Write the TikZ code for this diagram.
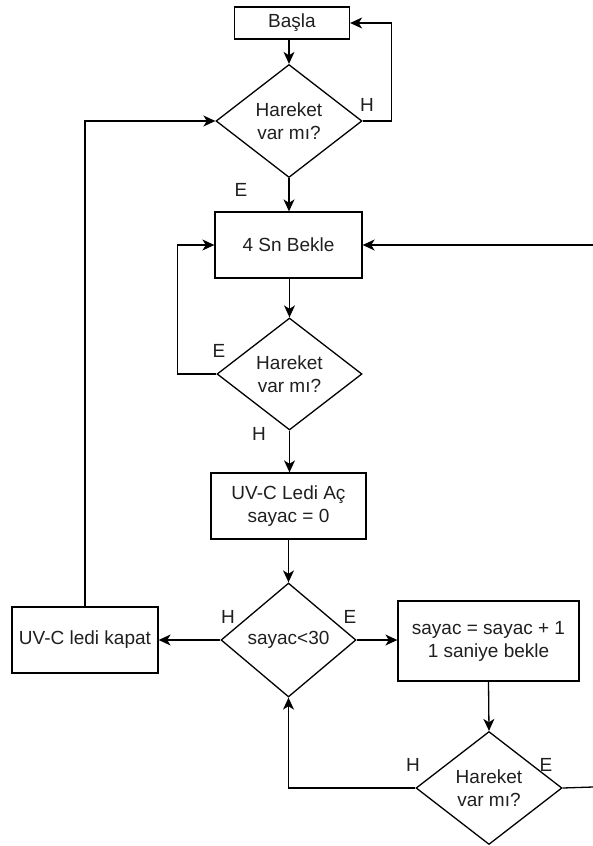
\documentclass[tikz,border=0pt]{standalone}
\usepackage{fontspec}
\setmainfont{Liberation Sans}
\usetikzlibrary{shapes.geometric,arrows.meta}
\begin{document}
\begin{tikzpicture}[x=1pt,y=-1pt,
  every node/.style={font=\fontsize{19}{23}\selectfont, text=black!88},
  flowbox/.style={draw, line width=1.3pt, rectangle, inner sep=0pt, align=center},
  decide/.style={draw, line width=1.3pt, diamond, inner sep=0pt, align=center},
  lbl/.style={inner sep=0pt},
  conn/.style={line width=1.3pt},
  arr/.style={conn, -{Stealth[length=12pt,width=11pt,inset=3.5pt]}}
]
\useasboundingbox (0,0) rectangle (593,846);

\node[flowbox, minimum width=115pt, minimum height=32pt] (basla) at (292,23) {Başla};
\node[decide, minimum width=146pt, minimum height=113pt] (d1) at (289,121) {Hareket\\var mı?};
\node[flowbox, minimum width=147pt, minimum height=66pt] (bek) at (288.5,245) {4 Sn Bekle};
\node[decide, minimum width=145pt, minimum height=112pt] (d2) at (289.5,374) {Hareket\\var mı?};
\node[flowbox, minimum width=155pt, minimum height=66pt] (uvac) at (288.5,506) {UV-C Ledi Aç\\sayac = 0};
\node[decide, minimum width=135pt, minimum height=114pt] (d3) at (288.5,640) {sayac<30};
\node[flowbox, minimum width=146pt, minimum height=66pt] (kapat) at (85,640) {UV-C ledi kapat};
\node[flowbox, minimum width=181pt, minimum height=80pt] (say) at (488.5,641) {sayac = sayac + 1\\1 saniye bekle};
\node[decide, minimum width=146pt, minimum height=113pt] (d4) at (489,788) {Hareket\\var mı?};

\coordinate (rin) at (593,245);
\coordinate (rout) at (593,787);

% labels
\node[lbl] (l1) at (367,105) {H};
\node[lbl] (l2) at (241,190) {E};
\node[lbl] (l3) at (219,351) {E};
\node[lbl] (l4) at (259,434) {H};
\node[lbl] (l5) at (228,617) {H};
\node[lbl] (l6) at (350,617) {E};
\node[lbl] (l7) at (413,765) {H};
\node[lbl] (l8) at (546,765) {E};

% connectors
\draw[arr] (basla.south -| d1.north) -- (d1.north);
\draw[arr] (d1.east) -- ++(29,0) |- (basla.east);
\draw[arr] (d1.south) -- (d1.south |- bek.north);
\draw[arr] (rin) -- (bek.east);
\draw[arr] (bek.south -| d2.north) -- (d2.north);
\draw[arr] (d2.west) -- ++(-39,0) |- (bek.west);
\draw[arr] (d2.south) -- (d2.south |- uvac.north);
\draw[arr] (uvac.south) -- (d3.north);
\draw[arr] (d3.west) -- (kapat.east);
\draw[arr] (kapat.north) |- (d1.west);
\draw[arr] (d3.east) -- (d3.east -| say.west);
\draw[arr] (say.south) -- (d4.north);
\draw[arr] (d4.west) -| (d3.south);
\draw[conn] (d4.east) -- (rout);
\end{tikzpicture}
\end{document}
